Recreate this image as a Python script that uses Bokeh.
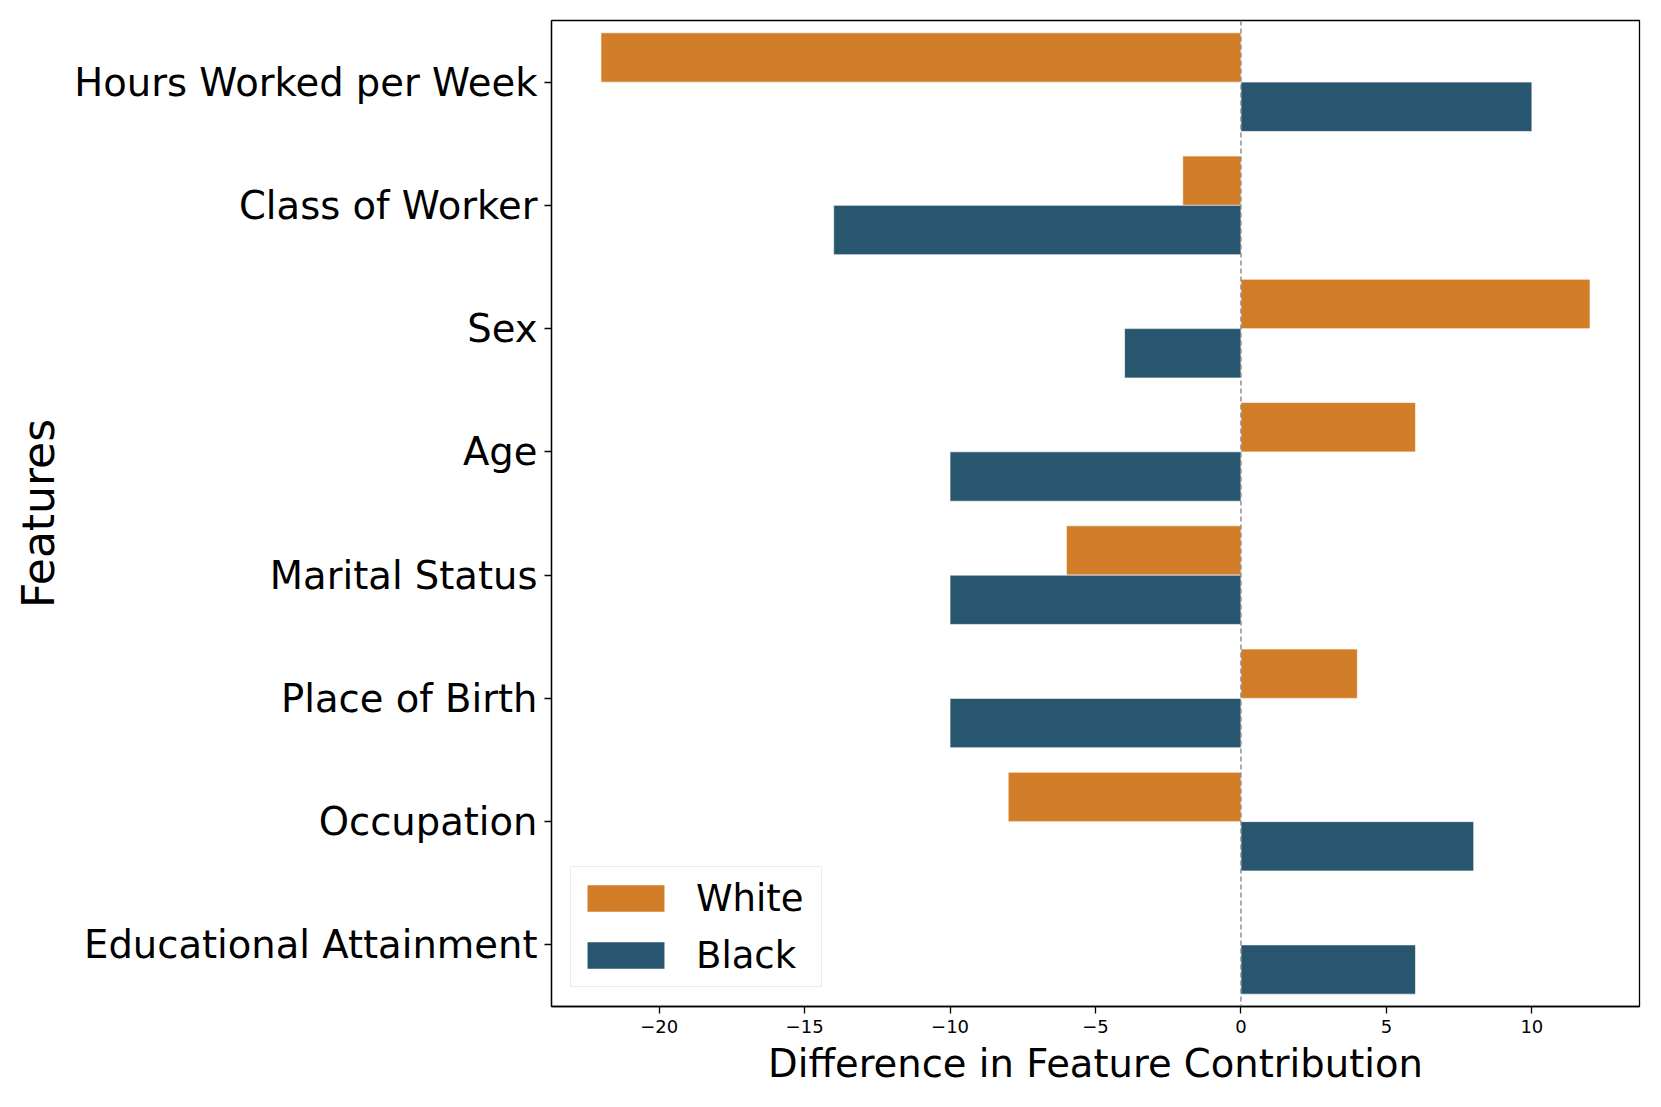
from bokeh.plotting import figure
from bokeh.models import ColumnDataSource, FactorRange, Range1d, FixedTicker, Span
from bokeh.transform import dodge
from bokeh.embed import file_html
from bokeh.resources import INLINE

features = ["Hours Worked per Week", "Class of Worker", "Sex", "Age",
            "Marital Status", "Place of Birth", "Occupation", "Educational Attainment"]
white = [-22, -2, 12, 6, -6, 4, -8, 0]
black = [10, -14, -4, -10, -10, -10, 8, 6]
x_ticks = [-20, -15, -10, -5, 0, 5, 10]
x_tick_labels = ["\u221220", "\u221215", "\u221210", "\u22125", "0", "5", "10"]

FONT = "DejaVu Sans"
ORANGE = "#D27E28"
BLUE = "#28566F"

src = ColumnDataSource(dict(feature=features, white=white, black=black))

p = figure(
    y_range=FactorRange(factors=features[::-1]),
    x_range=Range1d(-23.7, 13.7),
    frame_width=1088, frame_height=986,
    min_border_left=551, min_border_top=20, min_border_right=6, min_border_bottom=84,
    output_backend="svg", toolbar_location=None,
)

p.hbar(y=dodge("feature", 0.2, range=p.y_range), right="white", left=0, height=0.4,
       source=src, fill_color=ORANGE, line_color="white", line_alpha=0.6, line_width=1,
       legend_label="White")
p.hbar(y=dodge("feature", -0.2, range=p.y_range), right="black", left=0, height=0.4,
       source=src, fill_color=BLUE, line_color="white", line_alpha=0.6, line_width=1,
       legend_label="Black")

p.add_layout(Span(location=0, dimension="height", line_color="#808080",
                  line_dash="5 3", line_width=1.3))

p.xgrid.visible = False
p.ygrid.visible = False
p.outline_line_color = "black"
p.outline_line_width = 1.3
p.outline_line_alpha = 1.0
p.background_fill_color = "white"
p.border_fill_color = "white"

p.xaxis.ticker = FixedTicker(ticks=x_ticks)
p.xaxis.major_label_overrides = {t: l for t, l in zip(x_ticks, x_tick_labels)}
p.xaxis.minor_tick_line_color = None
p.xaxis.axis_label = "Difference in Feature Contribution"
p.yaxis.axis_label = "Features"

for ax in (p.xaxis, p.yaxis):
    ax.axis_line_color = "black"
    ax.axis_line_width = 1.3
    ax.major_tick_line_color = "black"
    ax.major_tick_line_width = 1.3
    ax.major_tick_out = 7
    ax.major_tick_in = 0
    ax.major_label_text_font = FONT
    ax.axis_label_text_font = FONT
    ax.axis_label_text_font_style = "normal"
    ax.axis_label_text_color = "black"
    ax.major_label_text_color = "black"

p.xaxis.major_label_text_font_size = "18px"
p.xaxis.major_label_standoff = 6
p.xaxis.axis_label_text_font_size = "38.5px"
p.xaxis.axis_label_standoff = 5
p.yaxis.major_label_text_font_size = "38.5px"
p.yaxis.major_label_standoff = 7
p.yaxis.axis_label_text_font_size = "44px"
p.yaxis.axis_label_standoff = 7

lg = p.legend[0]
lg.location = (19, 19)
lg.label_text_font = FONT
lg.label_text_font_size = "37px"
lg.label_text_color = "black"
lg.glyph_width = 97
lg.glyph_height = 34
lg.label_standoff = 22
lg.label_width = 119
lg.padding = 6
lg.spacing = 7
lg.margin = 0
lg.label_height = 50
lg.border_line_color = "#d5d5d5"
lg.border_line_width = 1.3
lg.background_fill_alpha = 0.9

open("out.html", "w").write(file_html(p, INLINE))
